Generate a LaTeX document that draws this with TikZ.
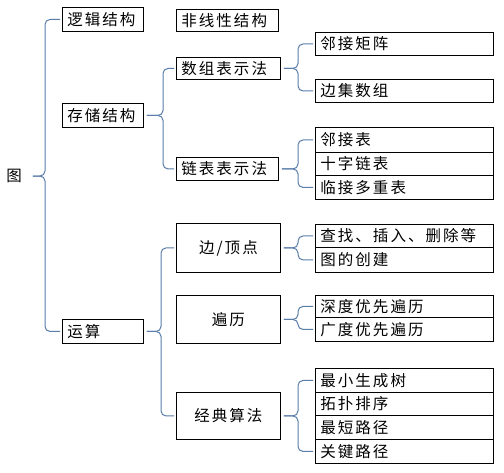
\documentclass[tikz,border=0pt]{standalone}
\usepackage{fontspec}
\setmainfont{Noto Sans CJK SC}[LetterSpace=13]
\usetikzlibrary{calc}
\definecolor{bracec}{RGB}{90,125,170}
\tikzset{
  bx/.style={draw=black, line width=0.9pt, anchor=north west, inner xsep=5pt, inner ysep=0pt,
    font=\fontsize{15.5}{17}\selectfont},
  brc/.style={draw=bracec, line width=1pt, rounded corners=5pt},
}
\newcommand\mybox[7]{%
  \pgfmathsetmacro\bh{#5-#3}\pgfmathsetmacro\tw{#4-#2-10}%
  \node[bx, align=#6, text width=\tw pt, minimum height=\bh pt] (#1) at (#2,#3) {#7};}
\newcommand\mybrace[4]{%
  \coordinate (bv) at (#4,0);
  \draw[brc] ($(#2.west)+(-2,0)$) -- (#2.west -| bv) -- (#1.east -| bv) -- ($(#1.east)+(3,0)$);
  \draw[brc] ($(#3.west)+(-2,0)$) -- (#3.west -| bv) -- (#1.east -| bv) -- ($(#1.east)+(3,0)$);}
\begin{document}
\begin{tikzpicture}[x={(1pt,0)}, y={(0,-1pt)}]
\useasboundingbox[fill=white] (0,0) rectangle (504,472);
\node[font=\fontsize{15.5}{17}\selectfont, inner xsep=8pt, inner ysep=0pt] (root) at (14,176) {图};
% level 1
\mybox{logic}{62}{7}{143}{31}{left}{逻辑结构}
\mybox{store}{62}{103}{143}{127}{left}{存储结构}
\mybox{op}{62}{319}{143}{343}{left}{运算}
% level 2
\mybox{nonlin}{176}{9}{278}{31}{left}{非线性结构}
\mybox{arr}{176}{57}{280}{79}{left}{数组表示法}
\mybox{link}{176}{157}{278}{180}{left}{链表表示法}
\mybox{edge}{176}{223}{280}{272}{center}{边/顶点}
\mybox{trav}{176}{295}{280}{343}{center}{遍历}
\mybox{algo}{176}{392}{280}{439}{center}{经典算法}
% level 3
\mybox{adjm}{315}{32}{493}{55}{left}{邻接矩阵}
\mybox{eset}{315}{79}{493}{102}{left}{边集数组}
\mybox{adjl}{315}{127}{493}{152}{left}{邻接表}
\mybox{cross}{315}{152}{493}{175}{left}{十字链表}
\mybox{multi}{315}{175}{493}{199}{left}{临接多重表}
\mybox{find}{315}{224}{493}{247}{left}{查找、插入、删除等}
\mybox{create}{315}{247}{493}{272}{left}{图的创建}
\mybox{dfs}{315}{295}{493}{317}{left}{深度优先遍历}
\mybox{bfs}{315}{317}{493}{341}{left}{广度优先遍历}
\mybox{mst}{315}{368}{493}{392}{left}{最小生成树}
\mybox{topo}{315}{392}{493}{415}{left}{拓扑排序}
\mybox{sp}{315}{415}{493}{439}{left}{最短路径}
\mybox{cp}{315}{439}{493}{463}{left}{关键路径}
% braces
\mybrace{root}{logic}{op}{45}
\mybrace{store}{arr}{link}{163}
\mybrace{op}{edge}{algo}{161}
\mybrace{arr}{adjm}{eset}{298}
\mybrace{link}{adjl}{multi}{298}
\mybrace{edge}{find}{create}{298}
\mybrace{trav}{dfs}{bfs}{298}
\mybrace{algo}{mst}{cp}{298}
\end{tikzpicture}
\end{document}
